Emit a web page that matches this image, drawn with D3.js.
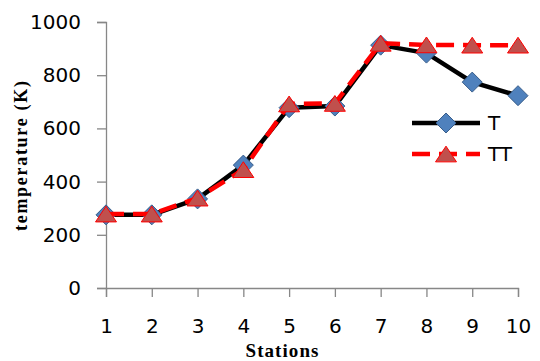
<!DOCTYPE html>
<html>
<head>
<meta charset="utf-8">
<script src="https://cdn.jsdelivr.net/npm/d3@7"></script>
<style>
  body { margin: 0; background: #fff; }
  svg { display: block; }
</style>
</head>
<body>
<svg id="chart" width="540" height="361"></svg>
<script>
'use strict';

// chart data
const stations = [1, 2, 3, 4, 5, 6, 7, 8, 9, 10];
const tValues = [275, 275, 335, 462, 678, 684, 913, 883, 774, 723];
const ttValues = [278, 278, 338, 445, 692, 694, 920, 914, 913, 913];
const yTicks = [0, 200, 400, 600, 800, 1000];
const seriesNames = ['T', 'TT'];

const svg = d3.select('#chart');

const x = d3.scaleLinear().domain([1, 10]).range([106, 518]);
const y = d3.scaleLinear().domain([0, 1000]).range([288, 22]);

// axes
const yAxis = svg.append('g')
  .attr('transform', 'translate(106,0)')
  .call(d3.axisLeft(y).tickValues(yTicks).tickFormat(d3.format('d')).tickSize(9).tickPadding(16));
const xAxis = svg.append('g')
  .attr('transform', 'translate(0,288)')
  .call(d3.axisBottom(x).tickValues(stations).tickSize(9).tickPadding(22));

[yAxis, xAxis].forEach(ax => {
  ax.select('.domain').attr('stroke', '#878787').attr('stroke-width', 1.3);
  ax.selectAll('.tick line').attr('stroke', '#878787').attr('stroke-width', 1.3);
  ax.selectAll('.tick text')
    .attr('fill', '#000')
    .style('font-family', '"DejaVu Sans", sans-serif')
    .style('font-size', '20px');
});

// axis titles
svg.append('text')
  .attr('transform', 'translate(27,156) rotate(-90)')
  .attr('text-anchor', 'middle')
  .style('font-family', '"Liberation Serif", serif')
  .style('font-weight', 'bold')
  .style('font-size', '18px')
  .attr('textLength', 150)
  .text('temperature (K)');

svg.append('text')
  .attr('x', 282)
  .attr('y', 357)
  .attr('text-anchor', 'middle')
  .style('font-family', '"Liberation Serif", serif')
  .style('font-weight', 'bold')
  .style('font-size', '19px')
  .attr('textLength', 73)
  .text('Stations');

const line = d3.line()
  .x((d, i) => x(stations[i]))
  .y(d => y(d));

// excel-like markers: square diamond and flat triangle, centred on the point
const diamond = d3.symbol().type({
  draw(ctx, size) {
    const r = Math.sqrt(size) / 2;
    ctx.moveTo(0, -r); ctx.lineTo(r, 0); ctx.lineTo(0, r); ctx.lineTo(-r, 0); ctx.closePath();
  }
}).size(400);
const triangle = d3.symbol().type({
  draw(ctx, size) {
    const w = Math.sqrt(size) / 2, h = w * 0.75;
    ctx.moveTo(0, -h); ctx.lineTo(w, h); ctx.lineTo(-w, h); ctx.closePath();
  }
}).size(440);

// T series: black line, blue diamonds
svg.append('path')
  .datum(tValues)
  .attr('d', line)
  .attr('fill', 'none')
  .attr('stroke', '#000')
  .attr('stroke-width', 4.5)
  .attr('stroke-linejoin', 'round');

svg.append('g').selectAll('path')
  .data(tValues)
  .join('path')
  .attr('transform', (d, i) => `translate(${x(stations[i])},${y(d)})`)
  .attr('d', diamond)
  .attr('fill', '#4f81bd')
  .attr('stroke', '#385d8a')
  .attr('stroke-width', 1);

// TT series: red dashed line, triangles
svg.append('path')
  .datum(ttValues)
  .attr('d', line)
  .attr('fill', 'none')
  .attr('stroke', '#ff0000')
  .attr('stroke-width', 4.5)
  .attr('stroke-dasharray', '18,9');

svg.append('g').selectAll('path')
  .data(ttValues)
  .join('path')
  .attr('transform', (d, i) => `translate(${x(stations[i])},${y(d)})`)
  .attr('d', triangle)
  .attr('fill', '#c0504d')
  .attr('stroke', '#ff0000')
  .attr('stroke-width', 1);

// legend
const legend = svg.append('g');
seriesNames.forEach((name, i) => {
  const ly = 123 + i * 31;
  const row = legend.append('g');
  row.append('line')
    .attr('x1', 412).attr('x2', 480)
    .attr('y1', ly).attr('y2', ly)
    .attr('stroke', i === 0 ? '#000' : '#ff0000')
    .attr('stroke-width', 4.5)
    .attr('stroke-dasharray', i === 0 ? null : '18,9');
  row.append('path')
    .attr('transform', `translate(446,${ly})`)
    .attr('d', i === 0 ? diamond : triangle)
    .attr('fill', i === 0 ? '#4f81bd' : '#c0504d')
    .attr('stroke', i === 0 ? '#385d8a' : '#ff0000')
    .attr('stroke-width', 1);
  row.append('text')
    .attr('x', 488)
    .attr('y', ly + 7)
    .style('font-family', '"DejaVu Sans", sans-serif')
    .style('font-size', '20px')
    .text(name);
});
</script>
</body>
</html>
